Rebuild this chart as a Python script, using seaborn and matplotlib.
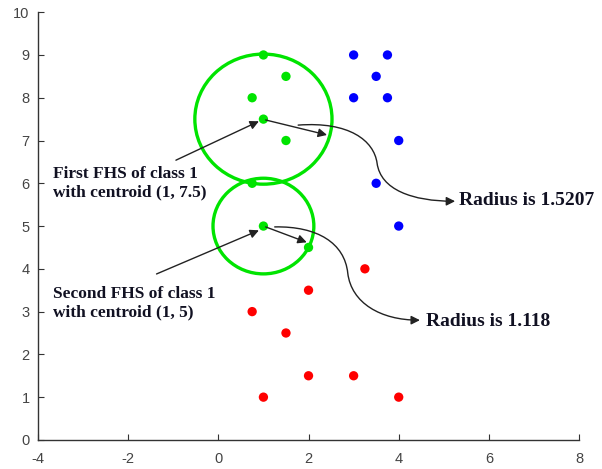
import numpy as np
import pandas as pd
import matplotlib
matplotlib.use("Agg")
import matplotlib.pyplot as plt
import seaborn as sns
from matplotlib.patches import Circle, FancyArrowPatch
from matplotlib.path import Path

# ---- data ----
green_x = [1, 1.5, 0.75, 1, 1.5, 0.75, 1, 2]
green_y = [9, 8.5, 8, 7.5, 7, 6, 5, 4.5]
blue_x = [3, 3.75, 3.5, 3, 3.75, 4, 3.5, 4]
blue_y = [9, 9, 8.5, 8, 8, 7, 6, 5]
red_x = [3.25, 2, 0.75, 1.5, 2, 3, 1, 4]
red_y = [4, 3.5, 3, 2.5, 1.5, 1.5, 1, 1]

centroids = [(1, 7.5), (1, 5)]
radii = [1.5207, 1.118]
x_ticks = [-4, -2, 0, 2, 4, 6, 8]
y_ticks = list(range(0, 11))

df = pd.DataFrame({
    "x": green_x + blue_x + red_x,
    "y": green_y + blue_y + red_y,
    "cls": ["g"] * len(green_x) + ["b"] * len(blue_x) + ["r"] * len(red_x),
})

sns.set_style("ticks")
plt.rcParams["font.family"] = ["Liberation Sans", "DejaVu Sans"]
plt.rcParams["axes.unicode_minus"] = False

fig = plt.figure(figsize=(6.02, 4.69), dpi=100)
ax = fig.add_axes([0.063, 0.062, 0.899, 0.912])

GREEN = "#00E400"
sns.scatterplot(data=df, x="x", y="y", hue="cls",
                palette={"g": GREEN, "b": "#0000FF", "r": "#FF0000"},
                s=45, linewidth=0, legend=False, ax=ax, zorder=3)

for (cx, cy), r in zip(centroids, radii):
    ax.add_patch(Circle((cx, cy), r, fill=False, edgecolor=GREEN, lw=2.4, zorder=4))

ax.set_xlim(-4, 8)
ax.set_ylim(0, 10)
ax.set_xticks(x_ticks)
ax.set_yticks(y_ticks)
ax.set_xlabel("")
ax.set_ylabel("")
for sp in ["top", "right"]:
    ax.spines[sp].set_visible(False)
for sp in ["left", "bottom"]:
    ax.spines[sp].set_color("#333333")
    ax.spines[sp].set_linewidth(1.0)
ax.tick_params(direction="in", length=4, width=0.8, color="#333333",
               labelsize=10.5, labelcolor="#444444")
ax.tick_params(axis="x", pad=9)
ax.tick_params(axis="y", pad=6)

txt_kw = dict(family=["Liberation Serif", "DejaVu Serif"], fontweight="bold",
              color="#111122", zorder=6)
arr_kw = dict(arrowstyle="-|>", mutation_scale=13, color="#222222", lw=1.0, zorder=5)

# labels on the left
ax.text(-3.66, 6.0, "First FHS of class 1\nwith centroid (1, 7.5)", va="center",
        ha="left", linespacing=1.15, fontsize=12.5, **txt_kw)
ax.text(-3.66, 3.2, "Second FHS of class 1\nwith centroid (1, 5)", va="center",
        ha="left", linespacing=1.15, fontsize=12.5, **txt_kw)
ax.add_patch(FancyArrowPatch((-0.94, 6.54), (0.9, 7.45), shrinkA=0, shrinkB=0, **arr_kw))
ax.add_patch(FancyArrowPatch((-1.37, 3.88), (0.9, 4.9), shrinkA=0, shrinkB=0, **arr_kw))

# radius arrows
ax.add_patch(FancyArrowPatch((1.05, 7.48), (2.41, 7.13), shrinkA=0, shrinkB=0, **arr_kw))
ax.add_patch(FancyArrowPatch((1.05, 4.98), (1.96, 4.62), shrinkA=0, shrinkB=0, **arr_kw))

# curved arrows
C4 = Path.CURVE4
p1 = Path([(1.77, 7.36), (2.9, 7.45), (3.45, 7.0), (3.52, 6.47),
           (3.6, 5.85), (4.3, 5.58), (5.25, 5.58)],
          [Path.MOVETO, C4, C4, C4, C4, C4, C4])
ax.add_patch(FancyArrowPatch(path=p1, **arr_kw))
p2 = Path([(1.25, 4.98), (2.2, 5.0), (2.8, 4.6), (2.87, 3.9),
           (2.95, 3.2), (3.6, 2.8), (4.47, 2.8)],
          [Path.MOVETO, C4, C4, C4, C4, C4, C4])
ax.add_patch(FancyArrowPatch(path=p2, **arr_kw))

ax.text(5.33, 5.59, "Radius is 1.5207", va="center", ha="left", fontsize=14, **txt_kw)
ax.text(4.6, 2.78, "Radius is 1.118", va="center", ha="left", fontsize=14, **txt_kw)

fig.savefig("out.png", dpi=100)
